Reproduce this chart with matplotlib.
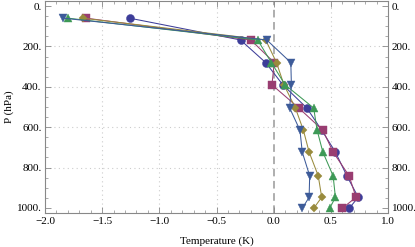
import numpy as np
import matplotlib
matplotlib.use("Agg")
import matplotlib.pyplot as plt
from matplotlib.ticker import MultipleLocator, FuncFormatter

plt.rcParams['font.family'] = ['Liberation Serif', 'DejaVu Serif']
plt.rcParams['font.size'] = 8

# pressure levels (hPa)
pres = [60, 168, 280, 390, 505, 615, 723, 841, 947, 1002]

# temperature anomalies (K), one list per series
t_circle = [-1.26, -0.29, -0.07, 0.08, 0.29, 0.42, 0.54, 0.64, 0.74, 0.66]
t_square = [-1.64, -0.20, 0.005, -0.015, 0.22, 0.43, 0.52, 0.66, 0.72, 0.60]
t_diamond = [-1.67, -0.07, 0.025, 0.09, 0.19, 0.26, 0.31, 0.39, 0.42, 0.35]
t_tri_up = [-1.80, -0.14, -0.02, 0.10, 0.35, 0.38, 0.43, 0.52, 0.54, 0.49]
t_tri_down = [-1.84, -0.06, 0.15, 0.155, 0.14, 0.23, 0.25, 0.315, 0.31, 0.25]

series = [
    (t_circle, 'o', (0.24, 0.24, 0.6)),
    (t_square, 's', (0.6, 0.24, 0.4428)),
    (t_diamond, 'D', (0.6, 0.547, 0.24)),
    (t_tri_up, '^', (0.24, 0.6, 0.337)),
    (t_tri_down, 'v', (0.24, 0.3575, 0.6)),
]
msizes = {'o': 5.8, 's': 5.2, 'D': 4.2, '^': 5.2, 'v': 5.2}

fig = plt.figure(figsize=(4.15, 2.47), dpi=100)
ax = fig.add_axes([45/415, 34/247, 343/415, 212/247])

for vals, m, c in series:
    ax.plot(vals, pres, color=c, lw=0.75, marker=m, ms=msizes[m],
            markeredgewidth=0.3, markeredgecolor=c, zorder=3)

ax.axvline(0, color='#999999', ls=(0, (5, 3)), lw=1.1, zorder=1)

for gx in [-1.5, -1.0, -0.5, 0.5]:
    ax.axvline(gx, color='#cccccc', ls=(0, (1, 3)), lw=0.8, zorder=0)
for gy in [200, 400, 600, 800]:
    ax.axhline(gy, color='#cccccc', ls=(0, (1, 3)), lw=0.8, zorder=0)

ax.set_xlim(-2.0, 1.0)
ax.set_ylim(1025, -25)

ax.xaxis.set_major_locator(MultipleLocator(0.5))
ax.xaxis.set_minor_locator(MultipleLocator(0.1))
ax.yaxis.set_major_locator(MultipleLocator(200))
ax.yaxis.set_minor_locator(MultipleLocator(50))
ax.xaxis.set_major_formatter(FuncFormatter(lambda v, p: ('%.1f' % v).replace('-', '\u2212')))
ax.yaxis.set_major_formatter(FuncFormatter(lambda v, p: '%d.' % v))

ax.tick_params(which='both', direction='in', top=True, right=True,
               labelright=True, color='#888888', pad=3.2)
ax.tick_params(axis='y', which='major', pad=2.6)
ax.tick_params(which='major', length=4, width=0.6)
ax.tick_params(which='minor', length=2, width=0.5)

for s in ax.spines.values():
    s.set_color('#888888')
    s.set_linewidth(0.8)

ax.set_xlabel('Temperature (K)', labelpad=7)
ax.set_ylabel('P (hPa)', labelpad=2)

fig.savefig('out.png', dpi=100)
